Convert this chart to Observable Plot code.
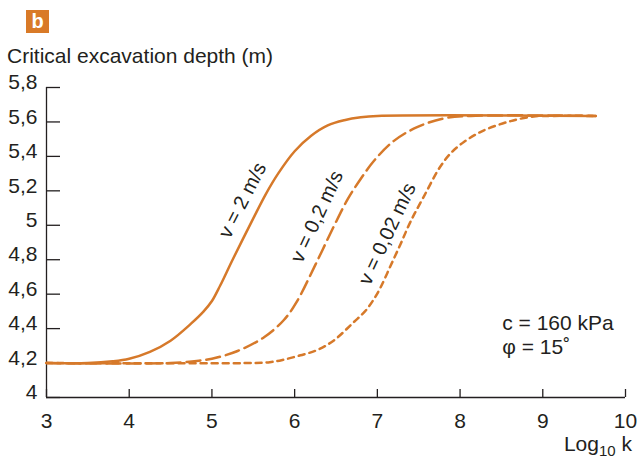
<!DOCTYPE html>
<html>
<head>
<meta charset="utf-8">
<script src="https://cdn.jsdelivr.net/npm/d3@7"></script>
<script src="https://cdn.jsdelivr.net/npm/@observablehq/plot@0.6"></script>
<style>
  html, body { margin: 0; padding: 0; background: #fff; }
  #wrap { position: relative; width: 637px; height: 461px; font-family: "Liberation Sans", Arial, Helvetica, sans-serif; color: #231f20; }
  #badge { position: absolute; left: 26px; top: 10px; width: 23px; height: 23px; background: #d97a27; color: #fff; font-weight: bold; font-size: 20px; line-height: 23px; text-align: center; }
  #title { position: absolute; left: 7px; top: 45px; font-size: 21px; line-height: 21px; white-space: nowrap; }
  #xlabel { position: absolute; right: 5px; top: 433px; font-size: 21px; line-height: 21px; white-space: nowrap; }
  #xlabel sub { font-size: 15px; vertical-align: -5px; line-height: 0; }
  #chart { position: absolute; left: 0; top: 0; }
</style>
</head>
<body>
<div id="wrap">
  <div id="chart"></div>
  <div id="badge">b</div>
  <div id="title">Critical excavation depth (m)</div>
  <div id="xlabel">Log<sub>10</sub> k</div>
</div>
<script>
// Tick values and labels
const xTicks = [3, 4, 5, 6, 7, 8, 9, 10];
const xTickLabels = ["3", "4", "5", "6", "7", "8", "9", "10"];
const yTicks = [4, 4.2, 4.4, 4.6, 4.8, 5, 5.2, 5.4, 5.6, 5.8];
const yTickLabels = ["4", "4,2", "4,4", "4,6", "4,8", "5", "5,2", "5,4", "5,6", "5,8"];

// Series: v = 2 m/s (solid)
const v2X = [3, 3.5, 3.8, 4.0, 4.25, 4.5, 4.75, 4.9, 5.0, 5.1, 5.25, 5.5, 5.65, 5.8, 6.0, 6.2, 6.4, 6.6, 6.8, 7.0, 9.64];
const v2Y = [4.2, 4.2, 4.21, 4.225, 4.265, 4.33, 4.43, 4.5, 4.56, 4.65, 4.8, 5.04, 5.18, 5.3, 5.43, 5.52, 5.58, 5.61, 5.627, 5.635, 5.635];

// Series: v = 0,2 m/s (long dashes)
const v02X = [3, 4.5, 4.86, 5.0, 5.31, 5.63, 5.87, 6.03, 6.25, 6.47, 6.64, 6.8, 6.96, 7.2, 7.48, 7.8, 8.13, 9.64];
const v02Y = [4.2, 4.2, 4.215, 4.225, 4.27, 4.35, 4.45, 4.56, 4.77, 4.99, 5.15, 5.27, 5.375, 5.49, 5.57, 5.62, 5.635, 5.635];

// Series: v = 0,02 m/s (short dashes)
const v002X = [3, 5.4, 5.7, 5.87, 6.07, 6.27, 6.47, 6.72, 6.85, 6.95, 7.04, 7.16, 7.28, 7.40, 7.56, 7.76, 7.9, 8.05, 8.2, 8.33, 8.61, 8.89, 9.1, 9.64];
const v002Y = [4.2, 4.2, 4.205, 4.22, 4.245, 4.275, 4.33, 4.44, 4.5, 4.565, 4.64, 4.765, 4.89, 5.02, 5.165, 5.34, 5.425, 5.485, 5.53, 5.56, 5.605, 5.632, 5.635, 5.635];

// Curve labels
const curveLabels = ["v = 2 m/s", "v = 0,2 m/s", "v = 0,02 m/s"];
const curveLabelX = [5.37, 6.27, 7.12];
const curveLabelY = [5.145, 5.05, 4.95];
const curveLabelAngle = [-63, -65, -65];

// Annotation
const noteLines = ["c = 160 kPa", "φ = 15˚"];
const noteX = [8.51, 8.51];
const noteY = [4.43, 4.29];

const zip = (xs, ys) => xs.map((x, i) => ({x, y: ys[i]}));
const orange = "#d6792a";
const ink = "#231f20";

const chart = Plot.plot({
  width: 637,
  height: 461,
  marginTop: 87,
  marginBottom: 64,
  marginLeft: 46,
  marginRight: 12,
  style: {fontFamily: "'Liberation Sans', Arial, Helvetica, sans-serif", fontSize: "21px", color: ink, background: "transparent"},
  x: {domain: [3, 10], label: null},
  y: {domain: [4, 5.8], label: null},
  marks: [
    Plot.ruleX([3], {stroke: ink, strokeWidth: 1.3}),
    Plot.ruleY([4], {stroke: ink, strokeWidth: 1.3}),
    Plot.axisY(yTicks, {anchor: "left", tickSize: -14, tickFormat: () => "", stroke: ink, strokeWidth: 1.3, label: null}),
    Plot.axisY(yTicks, {anchor: "left", tickSize: 0, tickPadding: 9, dy: -5, fill: ink, tickFormat: d => yTickLabels[yTicks.indexOf(d)], label: null}),
    Plot.axisX(xTicks, {anchor: "bottom", tickSize: -8, tickFormat: () => "", stroke: ink, strokeWidth: 1.3, label: null}),
    Plot.axisX(xTicks, {anchor: "bottom", tickSize: 0, tickPadding: 16, fill: ink, tickFormat: d => xTickLabels[xTicks.indexOf(d)], label: null}),
    Plot.line(zip(v002X, v002Y), {x: "x", y: "y", stroke: orange, strokeWidth: 2.5, strokeDasharray: "6,5", curve: "catmull-rom"}),
    Plot.line(zip(v02X, v02Y), {x: "x", y: "y", stroke: orange, strokeWidth: 2.5, strokeDasharray: "14,6", curve: "catmull-rom"}),
    Plot.line(zip(v2X, v2Y), {x: "x", y: "y", stroke: orange, strokeWidth: 2.5, curve: "catmull-rom"}),
    ...curveLabels.map((t, i) => Plot.text([t], {x: () => curveLabelX[i], y: () => curveLabelY[i], text: d => d, rotate: curveLabelAngle[i], fill: ink, fontSize: 20, textAnchor: "middle"})),
    Plot.text(noteLines, {x: (d, i) => noteX[i], y: (d, i) => noteY[i], text: d => d, fill: ink, fontSize: 21, textAnchor: "start"})
  ]
});
document.getElementById("chart").appendChild(chart);
</script>
</body>
</html>
